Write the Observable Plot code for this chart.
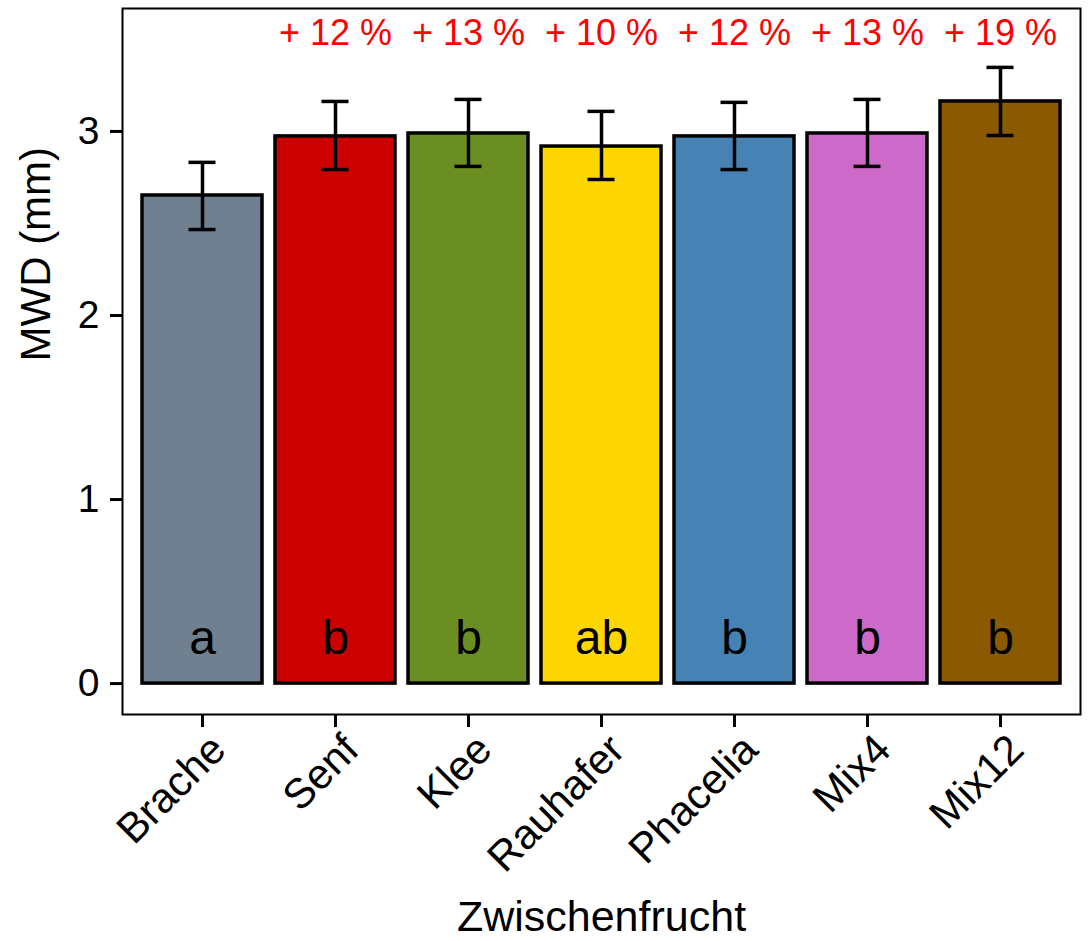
<!DOCTYPE html>
<html>
<head>
<meta charset="utf-8">
<script src="https://cdn.jsdelivr.net/npm/d3@7"></script>
<script src="https://cdn.jsdelivr.net/npm/@observablehq/plot@0.6"></script>
<style>
  html, body { margin: 0; padding: 0; background: white; }
</style>
</head>
<body>
<div id="chart"></div>
<script>
const categories = ["Brache", "Senf", "Klee", "Rauhafer", "Phacelia", "Mix4", "Mix12"];
const means      = [2.652, 2.973, 2.989, 2.918, 2.973, 2.989, 3.163];
const errLow     = [2.467, 2.793, 2.810, 2.739, 2.793, 2.810, 2.978];
const errHigh    = [2.832, 3.163, 3.174, 3.109, 3.158, 3.174, 3.348];
const letters    = ["a", "b", "b", "ab", "b", "b", "b"];
const pctLabels  = ["", "+ 12 %", "+ 13 %", "+ 10 %", "+ 12 %", "+ 13 %", "+ 19 %"];
const colors     = ["#708090", "#CD0000", "#6B8E23", "#FFD700", "#4682B4", "#CD69C9", "#8B5A00"];
const yTicks     = [0, 1, 2, 3];

const data = categories.map((c, i) => ({
  cat: c, mean: means[i], lo: errLow[i], hi: errHigh[i],
  letter: letters[i], pct: pctLabels[i]
}));

const font = "'Liberation Sans', Arial, Helvetica, sans-serif";

const chart = Plot.plot({
  width: 1088,
  height: 941,
  marginLeft: 122,
  marginRight: 8,
  marginTop: 8,
  marginBottom: 227,
  style: { fontFamily: font, background: "white", color: "black" },
  x: { domain: categories, paddingInner: 0.1, paddingOuter: 0.15, align: 0.5, label: null },
  y: { domain: [-0.168, 3.668], label: null },
  color: { domain: categories, range: colors },
  marks: [
    Plot.barY(data, { x: "cat", y: "mean", fill: "cat", stroke: "black", strokeWidth: 3.5 }),
    Plot.ruleX(data, { x: "cat", y1: "lo", y2: "hi", stroke: "black", strokeWidth: 3.5 }),
    Plot.tickY(data, { x: "cat", y: "lo", stroke: "black", strokeWidth: 3.5, insetLeft: 46.5, insetRight: 46.5 }),
    Plot.tickY(data, { x: "cat", y: "hi", stroke: "black", strokeWidth: 3.5, insetLeft: 46.5, insetRight: 46.5 }),
    Plot.text(data, { x: "cat", y: 0.163, text: "letter", fontSize: 48, lineAnchor: "bottom", fill: "black" }),
    Plot.text(data, { x: "cat", y: 3.535, text: "pct", fontSize: 36, lineAnchor: "middle", fill: "#FF0000" }),
    Plot.frame({ stroke: "black", strokeWidth: 2 }),
    Plot.axisY({ ticks: yTicks, tickSize: 12, tickPadding: 11, fontSize: 39, strokeWidth: 3, tickFormat: d => String(d), label: null }),
    Plot.axisX({ tickSize: 13, strokeWidth: 3, tickFormat: () => "", label: null }),
    Plot.axisX({ tickSize: 0, tickPadding: 28, tickRotate: -45, fontSize: 42, dx: 16, label: null }),
    Plot.text(["Zwischenfrucht"], { frameAnchor: "bottom", dy: 216, lineAnchor: "bottom", fontSize: 43, fill: "black" }),
    Plot.text(["MWD (mm)"], { frameAnchor: "left", dx: -102, rotate: -90, lineAnchor: "top", fontSize: 42, fill: "black" })
  ]
});

document.getElementById("chart").appendChild(chart);
</script>
</body>
</html>
